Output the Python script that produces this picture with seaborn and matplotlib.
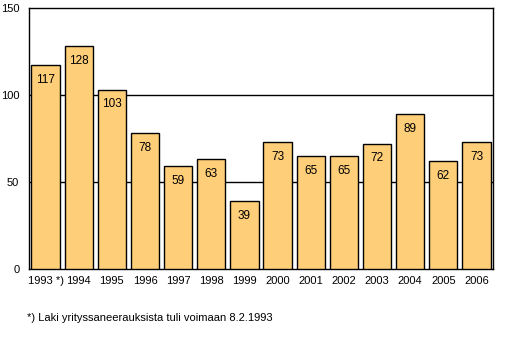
import matplotlib.pyplot as plt
import seaborn as sns

years = ["1993 *)", "1994", "1995", "1996", "1997", "1998", "1999",
         "2000", "2001", "2002", "2003", "2004", "2005", "2006"]
counts = [117, 128, 103, 78, 59, 63, 39, 73, 65, 65, 72, 89, 62, 73]
footnote = "*) Laki yrityssaneerauksista tuli voimaan 8.2.1993"

sns.set_style("white")
plt.rcParams["font.family"] = ["Liberation Sans", "DejaVu Sans"]
plt.rcParams["text.color"] = "black"
plt.rcParams["xtick.labelcolor"] = "black"
plt.rcParams["ytick.labelcolor"] = "black"

fig = plt.figure(figsize=(5.19, 3.54), dpi=100)
ax = fig.add_axes([29 / 519, 1 - 269 / 354, 464 / 519, 261 / 354])

sns.barplot(x=years, y=counts, color="#FFCE78", saturation=1, width=0.85,
            edgecolor="black", linewidth=1, ax=ax, zorder=3)

# arvot palkkien sisään
for i, v in enumerate(counts):
    ax.text(i, v - 5, str(v), ha="center", va="top", fontsize=8.5, zorder=4)

ax.set_ylim(0, 150)
ax.set_xlim(-0.5, len(years) - 0.5)
ax.set_yticks([0, 50, 100, 150])
for y in [50, 100]:
    ax.axhline(y, color="black", linewidth=1, zorder=1)

for s in ax.spines.values():
    s.set_color("black")
    s.set_linewidth(1)

ax.tick_params(axis="both", length=0, labelsize=8, pad=5, labelcolor="black")
ax.tick_params(axis="y", pad=7)
ax.set_xlabel("")
ax.set_ylabel("")

fig.text(27 / 519, 1 - 318 / 354, footnote, fontsize=8, va="center")

fig.savefig("out.png", dpi=100)
